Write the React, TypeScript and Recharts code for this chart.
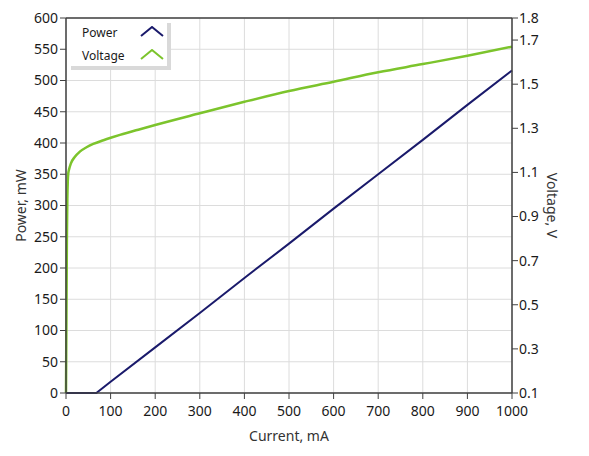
import React from "react";
import {
  LineChart,
  Line,
  XAxis,
  YAxis,
  CartesianGrid,
  Legend,
  ReferenceLine,
} from "recharts";

// voltage curve (V) vs current (mA)
const currentV = [
  0, 1, 2, 3, 4, 5, 7, 11, 20, 31, 46, 61, 84, 102, 121, 166, 200, 300, 400,
  500, 600, 700, 800, 900, 1000,
];
const voltage = [
  0.1, 0.45, 0.8, 0.98, 1.06, 1.095, 1.115, 1.141, 1.171, 1.194, 1.214, 1.229,
  1.246, 1.258, 1.27, 1.296, 1.315, 1.368, 1.42, 1.469, 1.511, 1.554, 1.591,
  1.629, 1.67,
];

// optical power (mW) vs current (mA)
const currentP = [0, 68, 100, 200, 300, 400, 500, 600, 700, 800, 900, 1000];
const power = [0, 0, 18, 73, 128, 184, 239, 295, 350, 405, 461, 516];

const xTicks = [0, 100, 200, 300, 400, 500, 600, 700, 800, 900, 1000];
const powerTicks = [0, 50, 100, 150, 200, 250, 300, 350, 400, 450, 500, 550, 600];
const voltTicks = [0.1, 0.3, 0.5, 0.7, 0.9, 1.1, 1.3, 1.5, 1.7, 1.8];

const voltData = currentV.map((c, i) => ({ current: c, voltage: voltage[i] }));
const powerData = currentP.map((c, i) => ({ current: c, power: power[i] }));

const FONT = "'Segoe UI', 'Noto Sans', sans-serif";
const INK = "#1a1a1a";
const AXIS = "#404040";
const POWER = "#1a1a6b";
const VOLT = "#7cc42c";

const tick = { fontSize: 14, fontFamily: FONT, fill: INK };

function title(value: string, angle: number, fx: (vb: any) => number, fy: (vb: any) => number) {
  return (props: any) => {
    const vb = props.viewBox;
    const cx = fx(vb);
    const cy = fy(vb);
    return (
      <text
        x={cx}
        y={cy}
        transform={angle ? `rotate(${angle} ${cx} ${cy})` : undefined}
        textAnchor="middle"
        dominantBaseline="central"
        fontSize={14}
        fontFamily={FONT}
        fill="#333"
      >
        {value}
      </text>
    );
  };
}

function Chevron({ color }: { color: string }) {
  return (
    <svg width={24} height={12} style={{ display: "block" }}>
      <polyline points="1,10 12,1 23,10" fill="none" stroke={color} strokeWidth={2} />
    </svg>
  );
}

function LegendBox() {
  const rows = [
    { name: "Power", color: POWER },
    { name: "Voltage", color: VOLT },
  ];
  return (
    <div
      style={{
        width: 100,
        height: 47,
        background: "#fff",
        boxShadow: "4px 4px 0 #d9d9d9",
        fontFamily: FONT,
        fontSize: 12,
        color: INK,
        position: "relative",
      }}
    >
      {rows.map((r, i) => (
        <div
          key={r.name}
          style={{
            position: "absolute",
            left: 15,
            top: 4 + i * 23,
            height: 18,
            width: 82,
            display: "flex",
            alignItems: "center",
          }}
        >
          <span style={{ flex: 1 }}>{r.name}</span>
          <Chevron color={r.color} />
        </div>
      ))}
    </div>
  );
}

export default function App() {
  return (
    <LineChart
      width={573}
      height={440}
      margin={{ top: 10, right: 9, bottom: 10, left: 0 }}
    >
      <CartesianGrid yAxisId="left" stroke="#dcdcdc" strokeWidth={1} />
      <XAxis
        dataKey="current"
        type="number"
        domain={[0, 1000]}
        ticks={xTicks}
        allowDuplicatedCategory={false}
        height={45}
        tick={tick}
        tickSize={6}
        tickMargin={7}
        stroke={AXIS}
        axisLine={{ stroke: AXIS, strokeWidth: 1.5 }}
        tickLine={{ stroke: AXIS }}
        label={{
          content: title("Current, mA", 0, (vb) => vb.x + vb.width / 2, (vb) => vb.y + 42),
        }}
      />
      <YAxis
        yAxisId="left"
        type="number"
        domain={[0, 600]}
        ticks={powerTicks}
        width={58}
        tick={tick}
        tickSize={6}
        tickMargin={2}
        axisLine={{ stroke: AXIS, strokeWidth: 1.5 }}
        tickLine={{ stroke: AXIS }}
        label={{
          content: title("Power, mW", -90, (vb) => vb.x + 12, (vb) => vb.y + vb.height / 2),
        }}
      />
      <YAxis
        yAxisId="right"
        orientation="right"
        type="number"
        domain={[0.1, 1.8]}
        ticks={voltTicks}
        width={60}
        tick={tick}
        tickSize={6}
        tickMargin={1}
        tickFormatter={(v) => Number(v).toFixed(1)}
        axisLine={{ stroke: AXIS, strokeWidth: 1.5 }}
        tickLine={{ stroke: AXIS }}
        label={{
          content: title("Voltage, V", 90, (vb) => vb.x + 40, (vb) => vb.y + vb.height / 2),
        }}
      />
      <ReferenceLine yAxisId="left" y={600} stroke={AXIS} strokeWidth={1.5} />
      <Legend
        layout="vertical"
        align="center"
        verticalAlign="middle"
        wrapperStyle={{ left: 59, top: 11, width: 104 }}
        content={() => <LegendBox />}
      />
      <Line
        yAxisId="right"
        data={voltData}
        dataKey="voltage"
        type="monotone"
        stroke={VOLT}
        strokeWidth={2.5}
        dot={false}
        activeDot={false}
        isAnimationActive={false}
      />
      <Line
        yAxisId="left"
        data={powerData}
        dataKey="power"
        type="linear"
        stroke={POWER}
        strokeWidth={2}
        dot={false}
        activeDot={false}
        isAnimationActive={false}
      />
    </LineChart>
  );
}
